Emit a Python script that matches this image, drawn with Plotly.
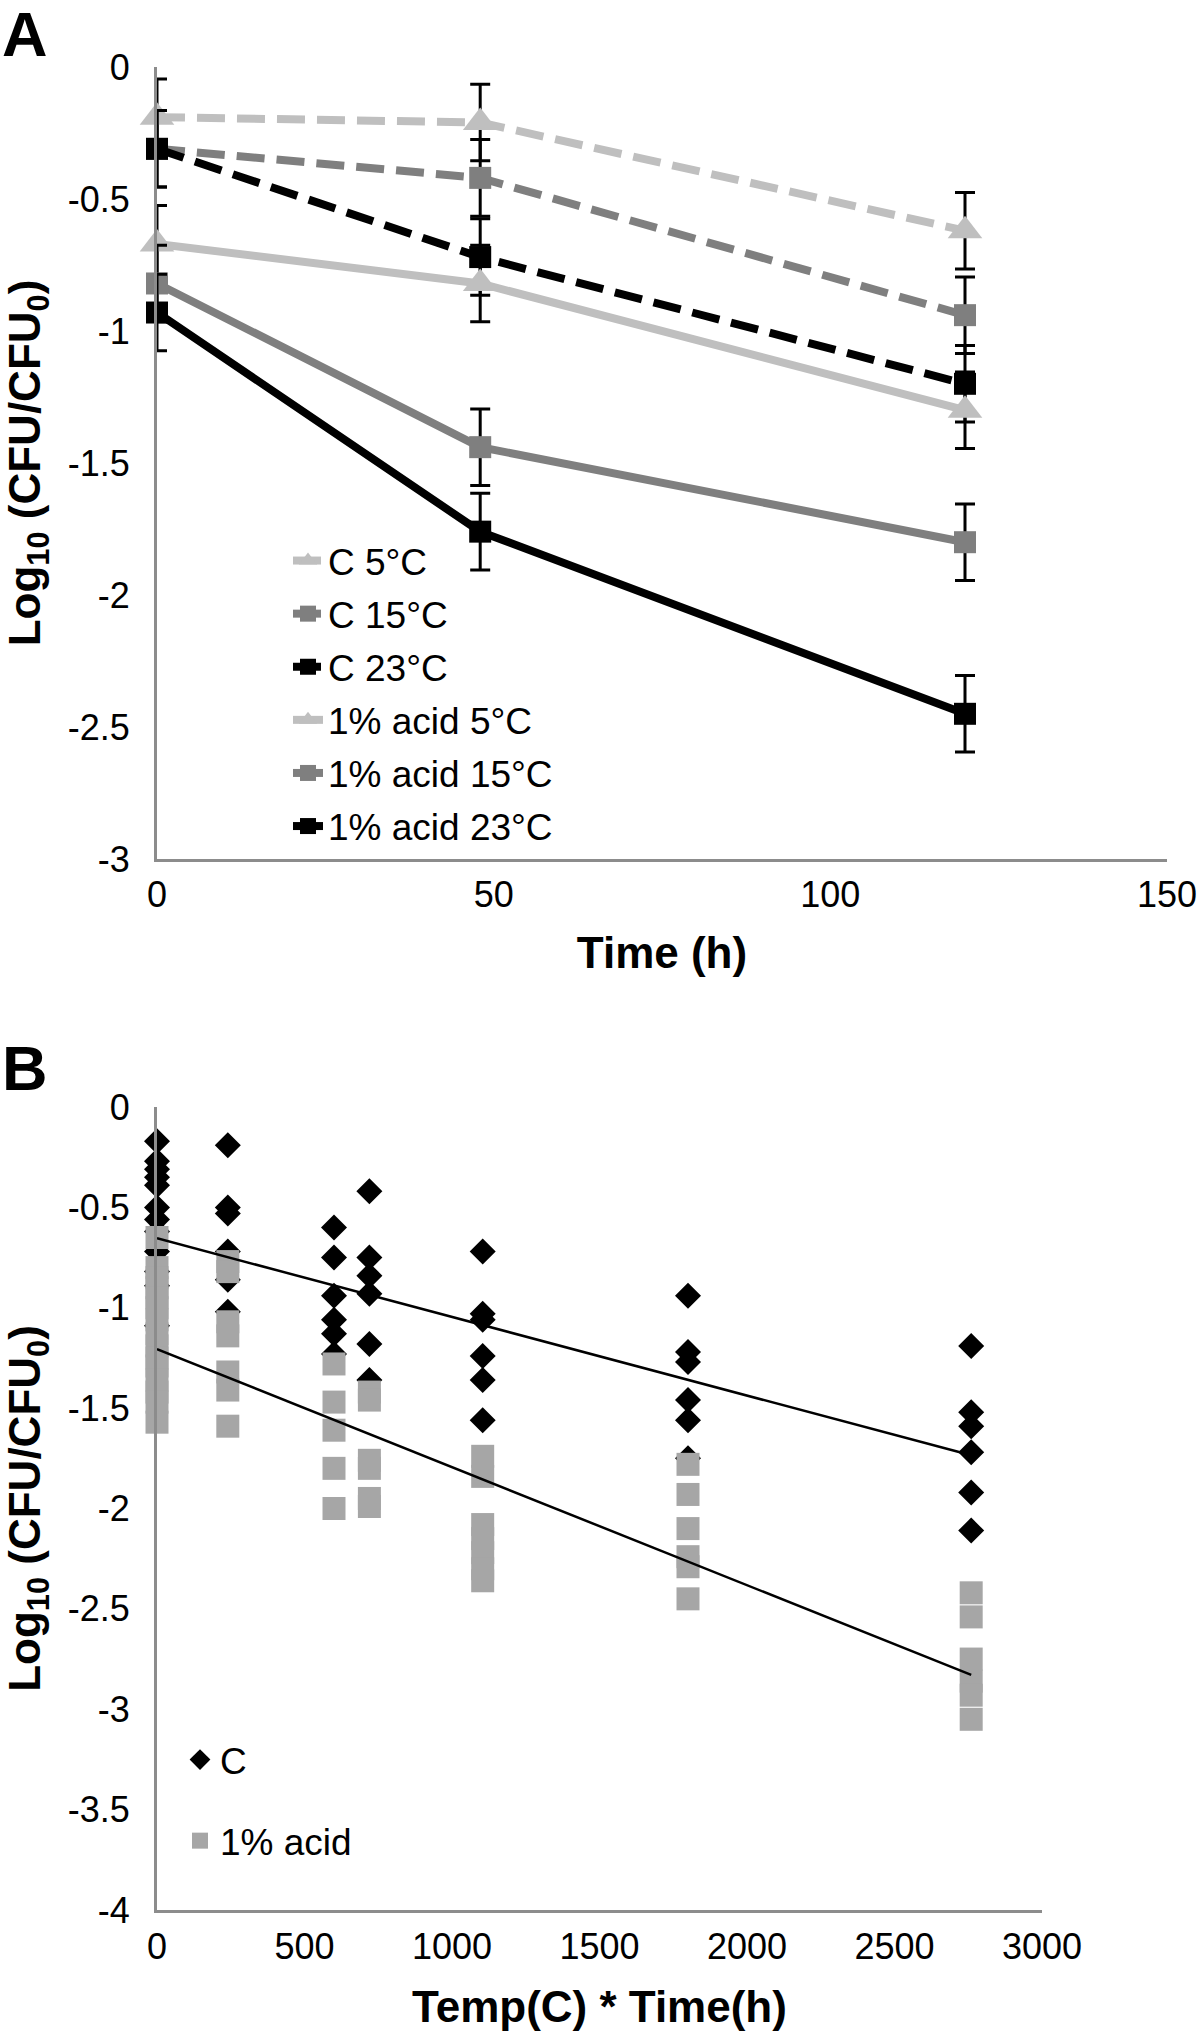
import plotly.graph_objects as go

# ---------------- Panel A data ----------------
time_h = [0, 48, 120]
c_5 = [-0.19, -0.21, -0.62]
c_15 = [-0.31, -0.42, -0.94]
c_23 = [-0.31, -0.72, -1.20]
acid_5 = [-0.67, -0.82, -1.30]
acid_15 = [-0.82, -1.44, -1.80]
acid_23 = [-0.93, -1.76, -2.45]
err_c_5 = [0.145, 0.145, 0.145]
err_c_15 = [0.145, 0.145, 0.145]
err_c_23 = [0.145, 0.145, 0.145]
err_acid_5 = [0.145, 0.145, 0.145]
err_acid_15 = [0.145, 0.145, 0.145]
err_acid_23 = [0.145, 0.145, 0.145]
names_a = ["C 5°C", "C 15°C", "C 23°C", "1% acid 5°C", "1% acid 15°C", "1% acid 23°C"]

a_xticks = [0, 50, 100, 150]
a_xticktext = ["0", "50", "100", "150"]
a_yticks = [0, -0.5, -1, -1.5, -2, -2.5, -3]
a_yticktext = ["0", "-0.5", "-1", "-1.5", "-2", "-2.5", "-3"]

# ---------------- Panel B data ----------------
tt_groups = [0, 240, 600, 720, 1104, 1800, 2760]
c_by_group = [
    [-0.17, -0.27, -0.31, -0.35, -0.39, -0.50, -0.56, -0.62, -0.72, -0.82, -0.89, -1.09],
    [-0.19, -0.50, -0.53, -0.72, -0.86, -1.02],
    [-0.60, -0.75, -0.94, -1.06, -1.13, -1.23],
    [-0.42, -0.75, -0.84, -0.93, -1.18, -1.36],
    [-0.72, -1.03, -1.06, -1.24, -1.36, -1.56],
    [-0.94, -1.22, -1.27, -1.46, -1.56, -1.75],
    [-1.19, -1.52, -1.59, -1.72, -1.92, -2.11],
]
acid_by_group = [
    [-0.65, -0.80, -0.85, -0.90, -0.95, -1.00, -1.06, -1.13, -1.19, -1.25, -1.29, -1.36, -1.42, -1.47, -1.57],
    [-0.77, -0.82, -1.07, -1.14, -1.32, -1.41, -1.59],
    [-1.28, -1.47, -1.61, -1.80, -2.00],
    [-1.42, -1.46, -1.76, -1.80, -1.95, -1.99],
    [-1.74, -1.84, -2.08, -2.15, -2.22, -2.30, -2.36],
    [-1.78, -1.93, -2.10, -2.24, -2.29, -2.45],
    [-2.42, -2.54, -2.75, -2.86, -2.93, -3.05],
]
# linear trend lines (intercept, slope)
trend_c = (-0.654, -0.0003917)
trend_acid = (-1.206, -0.000588)

b_xticks = [0, 500, 1000, 1500, 2000, 2500, 3000]
b_xticktext = ["0", "500", "1000", "1500", "2000", "2500", "3000"]
b_yticks = [0, -0.5, -1, -1.5, -2, -2.5, -3, -3.5, -4]
b_yticktext = ["0", "-0.5", "-1", "-1.5", "-2", "-2.5", "-3", "-3.5", "-4"]

# ---------------- styles ----------------
FONT = "Arial, Liberation Sans, Helvetica, sans-serif"
LIGHT = "#BFBFBF"
MID = "#7F7F7F"
DARK = "#000000"
AXIS = "#8C8C8C"
SQ_B = "#A6A6A6"
TICK_SIZE = 36
LEG_SIZE = 37
TITLE_SIZE = 44

fig = go.Figure()

series_a = [
    (names_a[0], c_5, err_c_5, LIGHT, "triangle-up", "dash"),
    (names_a[1], c_15, err_c_15, MID, "square", "dash"),
    (names_a[2], c_23, err_c_23, DARK, "square", "dash"),
    (names_a[3], acid_5, err_acid_5, LIGHT, "triangle-up", "solid"),
    (names_a[4], acid_15, err_acid_15, MID, "square", "solid"),
    (names_a[5], acid_23, err_acid_23, DARK, "square", "solid"),
]
for i, (nm, ys, es, col, sym, dash) in enumerate(series_a):
    fig.add_trace(go.Scatter(
        x=time_h, y=ys, name=nm, mode="lines+markers",
        line=dict(color=col, width=8, dash=("28px,12px" if dash == "dash" else "solid")),
        marker=dict(color=col, symbol=sym, size=(30 if sym == "triangle-up" else 22)),
        error_y=dict(type="data", array=es, visible=True, color="black", thickness=3, width=10),
        xaxis="x", yaxis="y", cliponaxis=False, legend="legend", legendgroup=f"a{i}",
    ))

# Panel B scatter
cx, cy, ax_, ay_ = [], [], [], []
for g, vals in zip(tt_groups, c_by_group):
    cx += [g] * len(vals)
    cy += vals
for g, vals in zip(tt_groups, acid_by_group):
    ax_ += [g] * len(vals)
    ay_ += vals

fig.add_trace(go.Scatter(
    x=cx, y=cy, name="C", mode="markers",
    marker=dict(color="black", symbol="diamond", size=20),
    xaxis="x2", yaxis="y2", cliponaxis=False, legend="legend2", legendgroup="b1",
))
fig.add_trace(go.Scatter(
    x=ax_, y=ay_, name="1% acid", mode="markers",
    marker=dict(color=SQ_B, symbol="square", size=23),
    xaxis="x2", yaxis="y2", cliponaxis=False, legend="legend2", legendgroup="b2",
))

xmin, xmax = min(tt_groups), max(tt_groups)
for (b0, b1) in (trend_c, trend_acid):
    fig.add_trace(go.Scatter(
        x=[xmin, xmax], y=[b0 + b1 * xmin, b0 + b1 * xmax], mode="lines",
        line=dict(color="black", width=2.5), showlegend=False,
        xaxis="x2", yaxis="y2", hoverinfo="skip",
    ))

W, H = 1200, 2034
def px_x(p):
    return p / W
def px_y(p):
    return 1 - p / H

common_axis = dict(showline=True, linecolor=AXIS, linewidth=3, showgrid=False, automargin=False,
                   zeroline=False, ticks="", tickfont=dict(family=FONT, size=TICK_SIZE, color="black"))
title_font = dict(family=FONT, size=TITLE_SIZE, color="black")
ytitle = "<b>Log<sub>10</sub> (CFU/CFU<sub>0</sub>)</b>"

fig.update_layout(
    template="none",
    width=W, height=H, margin=dict(l=0, r=0, t=0, b=0, pad=0), autosize=False,
    paper_bgcolor="white", plot_bgcolor="white",
    font=dict(family=FONT, color="black"),
    xaxis=dict(domain=[px_x(157), px_x(1167)], range=[0, 150], anchor="y",
               tickvals=a_xticks, ticktext=a_xticktext, ticklabelstandoff=2,
               title=dict(text="<b>Time (h)</b>", font=title_font, standoff=23), **common_axis),
    yaxis=dict(domain=[px_y(859), px_y(67)], range=[-3, 0], anchor="x",
               tickvals=a_yticks, ticktext=a_yticktext, ticklabelstandoff=17,
               title=dict(text=ytitle, font=title_font, standoff=15), **common_axis),
    xaxis2=dict(domain=[px_x(157), px_x(1042)], range=[0, 3000], anchor="y2",
                tickvals=b_xticks, ticktext=b_xticktext, ticklabelstandoff=3,
                title=dict(text="<b>Temp(C) * Time(h)</b>", font=title_font, standoff=25), **common_axis),
    yaxis2=dict(domain=[px_y(1910), px_y(1107)], range=[-4, 0], anchor="x2",
                tickvals=b_yticks, ticktext=b_yticktext, ticklabelstandoff=17,
                title=dict(text=ytitle, font=title_font, standoff=15), **common_axis),
    legend=dict(x=px_x(288), y=px_y(530), xanchor="left", yanchor="top",
                bgcolor="rgba(0,0,0,0)", font=dict(family=FONT, size=LEG_SIZE, color="black"),
                tracegroupgap=2, traceorder="grouped"),
    legend2=dict(x=px_x(180), y=px_y(1729), xanchor="left", yanchor="top",
                 bgcolor="rgba(0,0,0,0)", font=dict(family=FONT, size=LEG_SIZE, color="black"),
                 tracegroupgap=30, traceorder="grouped"),
    annotations=[
        dict(text="<b>A</b>", x=0, y=px_y(34), xref="paper", yref="paper",
             xanchor="left", yanchor="middle", showarrow=False,
             font=dict(family=FONT, size=63, color="black")),
        dict(text="<b>B</b>", x=0, y=px_y(1068), xref="paper", yref="paper",
             xanchor="left", yanchor="middle", showarrow=False,
             font=dict(family=FONT, size=63, color="black")),
    ],
    showlegend=True,
)

fig.write_html("out.html", config={"displayModeBar": False},
               post_script="document.body.style.margin='0';document.body.style.overflow='hidden';")
